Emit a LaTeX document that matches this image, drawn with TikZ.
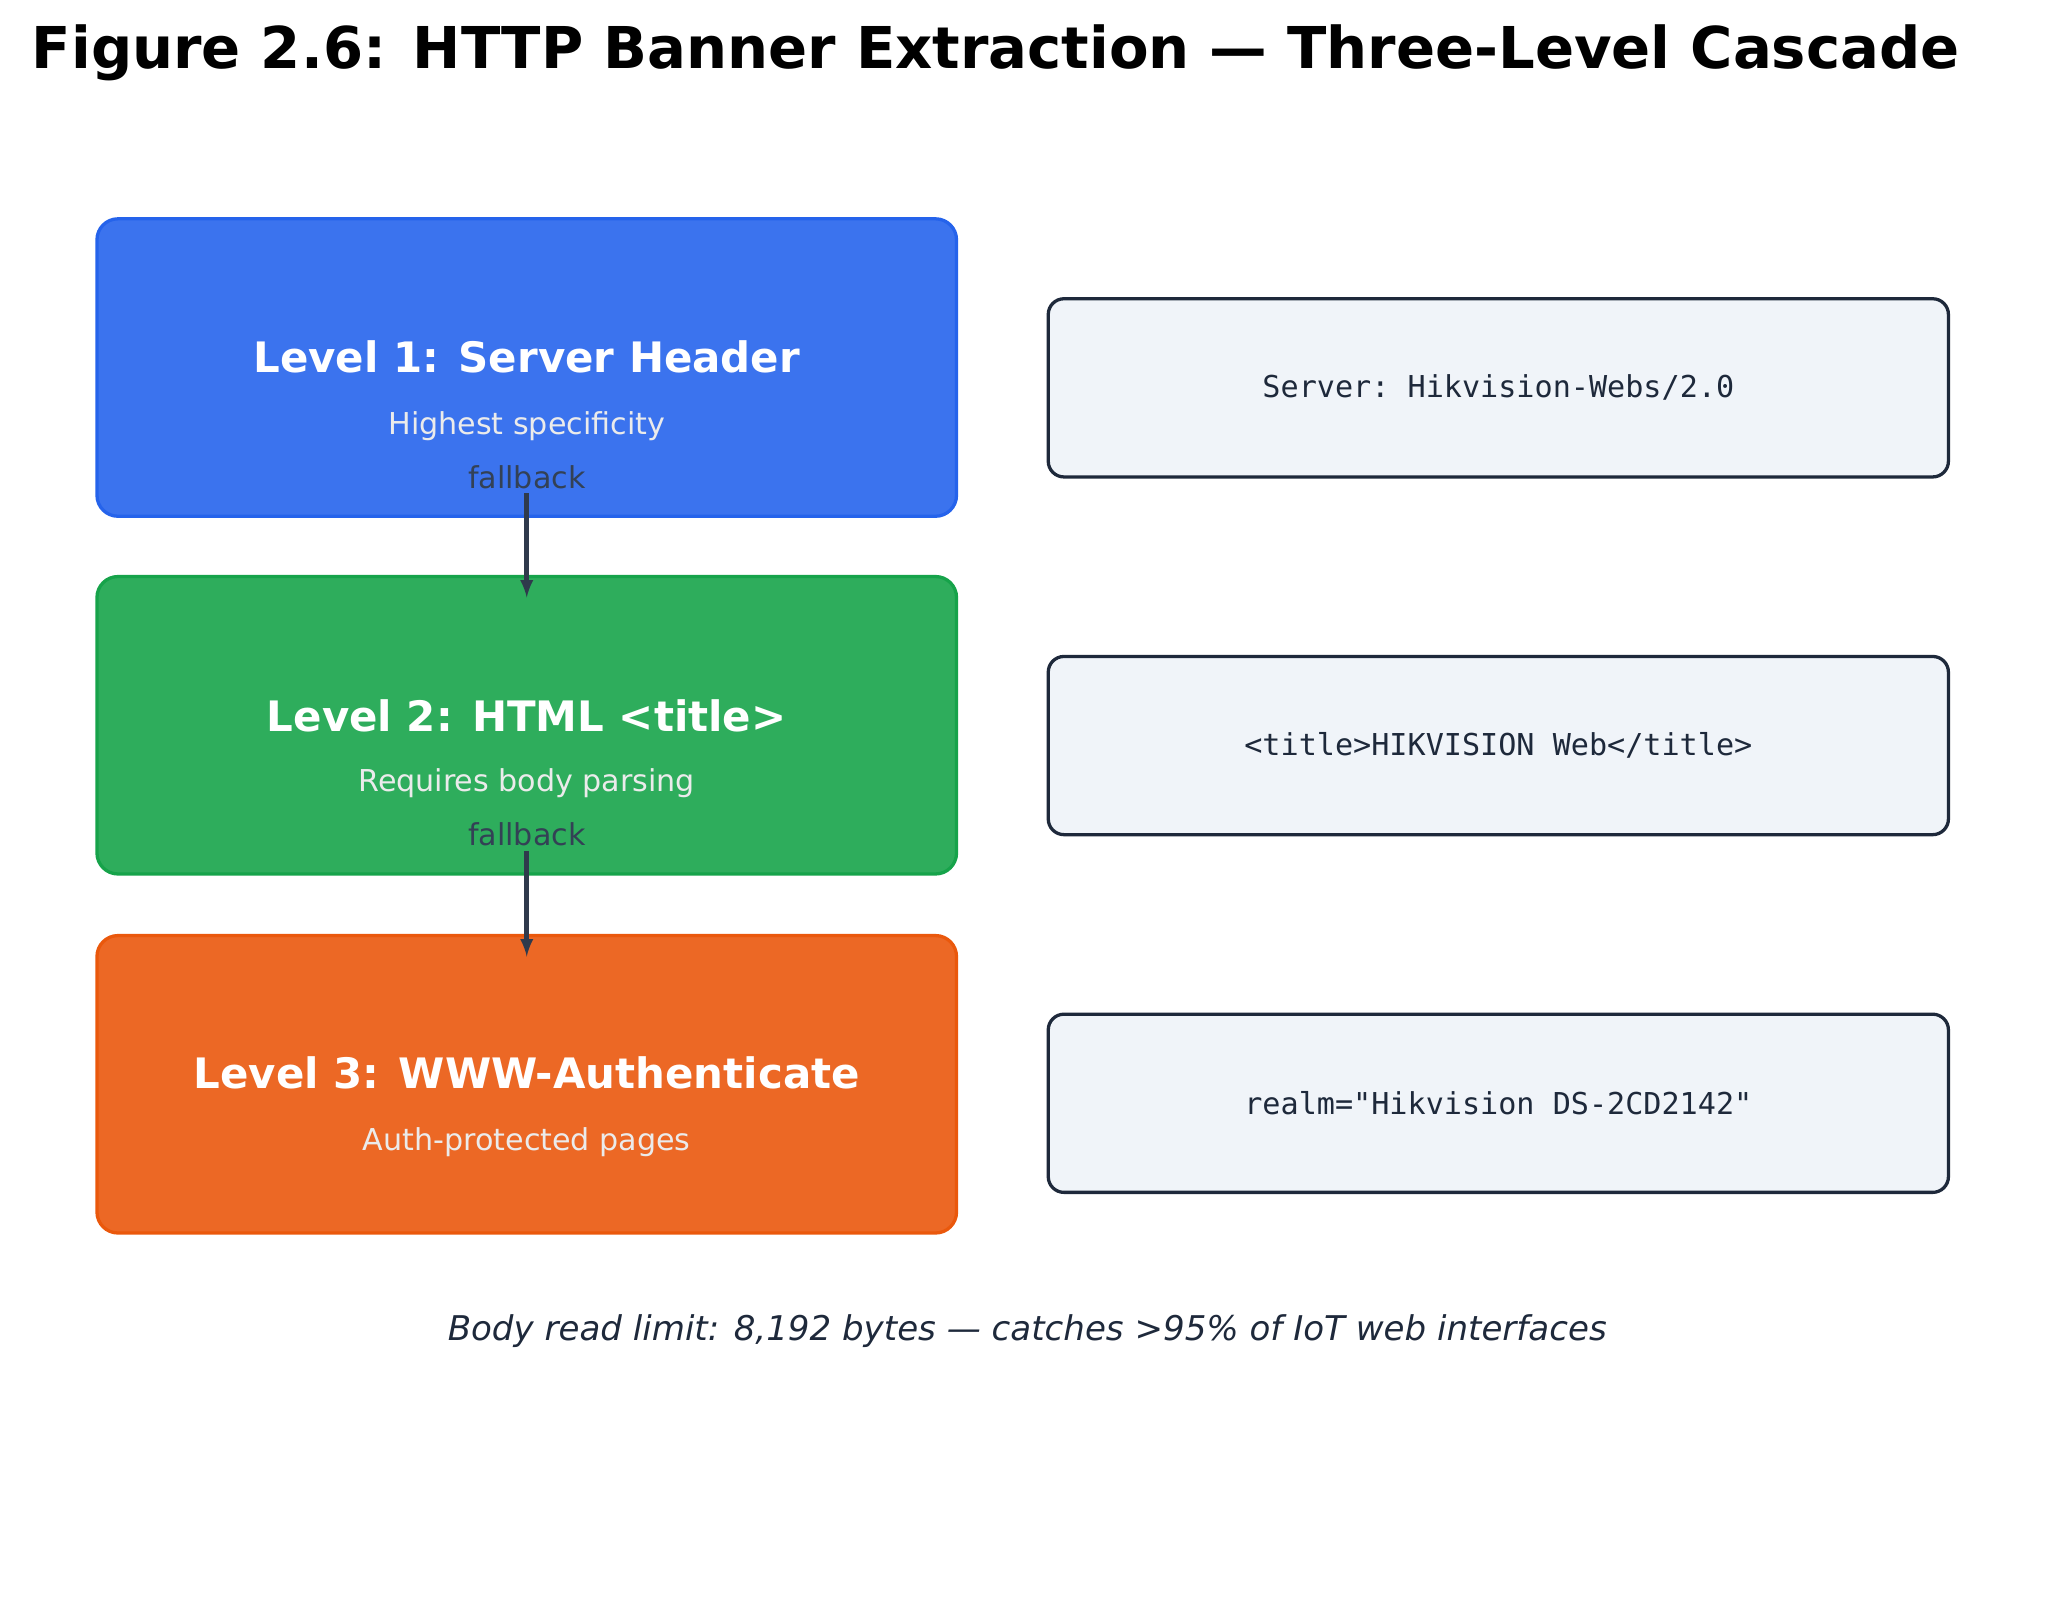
\documentclass[tikz,border=0pt]{standalone}
\usepackage{fontspec}
\setmainfont{DejaVu Sans}
\setmonofont{DejaVu Sans Mono}
\usetikzlibrary{positioning}
\definecolor{lvlblue}{HTML}{3B73EE}
\definecolor{lvlblueB}{HTML}{2563EB}
\definecolor{lvlgreen}{HTML}{2EAD5C}
\definecolor{lvlgreenB}{HTML}{16A34A}
\definecolor{lvlorange}{HTML}{EC6825}
\definecolor{lvlorangeB}{HTML}{EA580C}
\definecolor{exfill}{HTML}{F0F4F9}
\definecolor{exdraw}{HTML}{1E293B}
\definecolor{arrowcol}{HTML}{2F3A4C}
\definecolor{fbtext}{HTML}{334155}
\tikzset{
  level/.style={rounded corners=16pt, line width=2.5pt, minimum width=656pt, minimum height=227pt},
  example/.style={rounded corners=12pt, draw=exdraw, fill=exfill, line width=2.5pt,
    minimum width=687pt, minimum height=136pt, font=\ttfamily\fontsize{23}{28}\selectfont, text=exdraw},
  lvltitle/.style={text=white, font=\bfseries\fontsize{32}{38}\selectfont},
  lvlsub/.style={text=white!92!black, font=\fontsize{23}{28}\selectfont},
  fallback/.style={text=fbtext, font=\fontsize{23}{28}\selectfont},
  flow/.style={draw=arrowcol, line width=3.5pt, -latex}
}
\begin{document}
\begin{tikzpicture}[x=1pt,y=-1pt]
    \useasboundingbox (0,0) rectangle (1563,1222);
    \node[font=\bfseries\fontsize{44}{52}\selectfont] (title) at (760,40) {Figure 2.6: HTTP Banner Extraction — Three-Level Cascade};
    % cascade boxes
    \node[level, fill=lvlblue, draw=lvlblueB] (lvlA) at (402,280.5) {};
    \node[level, fill=lvlgreen, draw=lvlgreenB] (lvlB) at (402,553.5) {};
    \node[level, fill=lvlorange, draw=lvlorangeB] (lvlC) at (402,827.5) {};
    \node[lvltitle] at (402,272) {Level 1: Server Header};
    \node[lvlsub] at (402,325) {Highest specificity};
    \node[fallback] (fbA) at (402,364) {fallback};
    \node[lvltitle] at (402,546) {Level 2: HTML <title>};
    \node[lvlsub] at (402,598) {Requires body parsing};
    \node[fallback] (fbB) at (402,637) {fallback};
    \node[lvltitle] at (402,819) {Level 3: WWW-Authenticate};
    \node[lvlsub] at (402,872) {Auth-protected pages};
    % examples
    \node[example] (exA) at (1143.5,296) {Server: Hikvision-Webs/2.0};
    \node[example] (exB) at (1143.5,569) {<title>HIKVISION Web</title>};
    \node[example] (exC) at (1143.5,842) {realm="Hikvision DS-2CD2142"};
    \coordinate (inB) at (402,456);
    \coordinate (inC) at (402,730);
    \draw[flow] (fbA.south) -- (inB);
    \draw[flow] (fbB.south) -- (inC);
    \node[text=exdraw, font=\itshape\fontsize{26}{31}\selectfont] (note) at (784,1016) {Body read limit: 8,192 bytes — catches >95\% of IoT web interfaces};
\end{tikzpicture}
\end{document}
